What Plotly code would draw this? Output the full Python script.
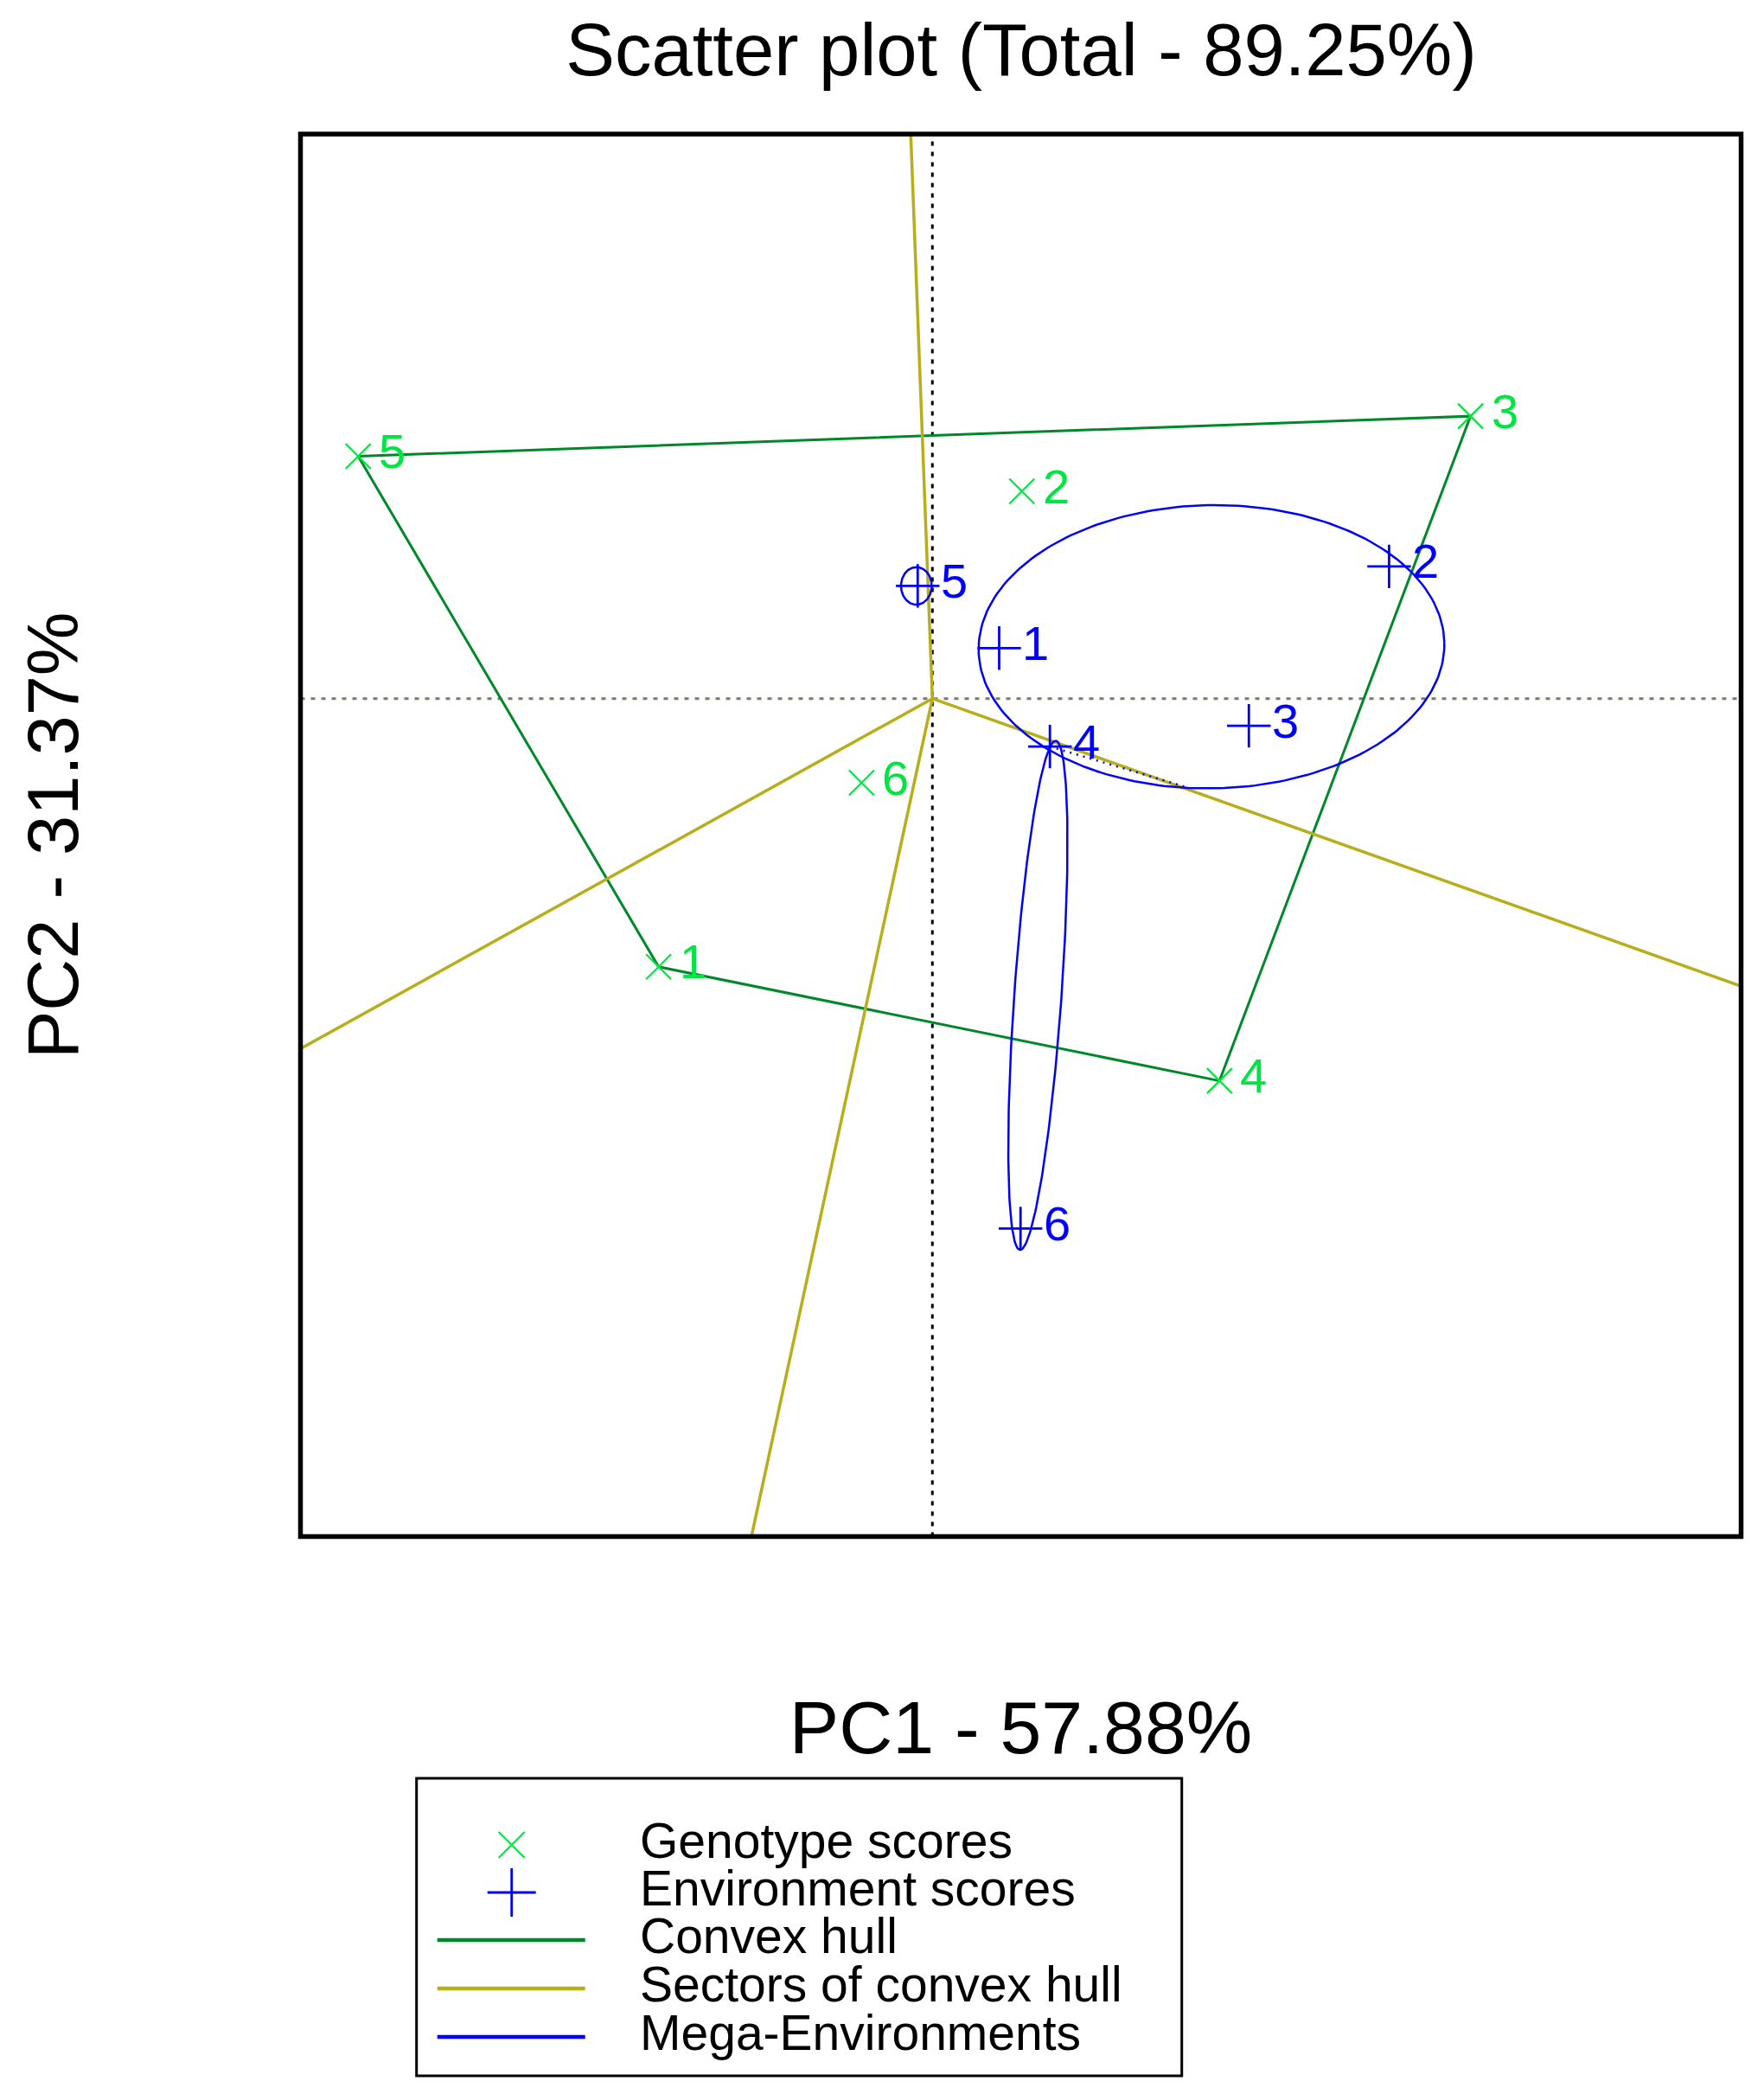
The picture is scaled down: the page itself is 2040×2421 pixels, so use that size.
import numpy as np
import plotly.graph_objects as go

# ---------------- data ----------------
genotype_labels = ["1", "2", "3", "4", "5", "6"]
genotype_pc1 = [-2.05, 0.67, 4.03, 2.15, -4.30, -0.53]
genotype_pc2 = [-2.07, 1.60, 2.18, -2.95, 1.87, -0.65]

environment_labels = ["1", "2", "3", "4", "5", "6"]
environment_pc1 = [0.50, 3.42, 2.37, 0.88, -0.11, 0.66]
environment_pc2 = [0.39, 1.02, -0.21, -0.37, 0.87, -4.09]

# mega-environment ellipses: members, centre, semi-axes, orientation
mega_env_members = [["1", "2", "3"], ["4", "6"], ["5"]]
mega_env_center_pc1 = [2.09, 0.79, -0.12]
mega_env_center_pc2 = [0.40, -2.29, 0.87]
mega_env_semi_major = [1.744, 1.969, 0.145]
mega_env_semi_minor = [1.093, 0.177, 0.115]
mega_env_angle_deg = [1.0, 86.1, 90.0]
mega_env_link_env = "4"          # dotted link environment -> ellipse 1
mega_env_link_param_deg = 264.0

title_text = "Scatter plot (Total - 89.25%)"
pc1_title = "PC1 - 57.88%"
pc2_title = "PC2 - 31.37%"
legend_labels = ["Genotype scores", "Environment scores", "Convex hull",
                 "Sectors of convex hull", "Mega-Environments"]

# ---------------- styles ----------------
FONT = "Liberation Sans, Arial, Helvetica, sans-serif"
GREEN = "#00E640"
HULL = "#00882A"
SECTOR = "#B8AE1C"
BLUE = "#0000FF"
W, H = 2040, 2421
OFF = 8  # page body margin of the html document


def px_x(p):
    return (p - OFF) / W


def px_y(p):
    return 1 - (p - OFF) / H


# ---------------- derived geometry ----------------
def convex_hull(xs, ys):
    pts = sorted(zip(xs, ys))

    def cross(o, a, b):
        return (a[0] - o[0]) * (b[1] - o[1]) - (a[1] - o[1]) * (b[0] - o[0])

    lower, upper = [], []
    for p in pts:
        while len(lower) >= 2 and cross(lower[-2], lower[-1], p) <= 0:
            lower.pop()
        lower.append(p)
    for p in reversed(pts):
        while len(upper) >= 2 and cross(upper[-2], upper[-1], p) <= 0:
            upper.pop()
        upper.append(p)
    return lower[:-1] + upper[:-1]


hull = convex_hull(genotype_pc1, genotype_pc2)
hull_x = [p[0] for p in hull] + [hull[0][0]]
hull_y = [p[1] for p in hull] + [hull[0][1]]

ray_x, ray_y = [], []
for i in range(len(hull)):
    p = np.array(hull[i])
    q = np.array(hull[(i + 1) % len(hull)])
    e = q - p
    nv = np.array([e[1], -e[0]])
    if np.dot(nv, p) < 0:
        nv = -nv
    nv = nv / np.linalg.norm(nv)
    end = nv * 30.0
    ray_x += [0.0, end[0], None]
    ray_y += [0.0, end[1], None]


def ellipse_point(k, t):
    th = np.radians(mega_env_angle_deg[k])
    a, b = mega_env_semi_major[k], mega_env_semi_minor[k]
    ex = mega_env_center_pc1[k] + a * np.cos(t) * np.cos(th) - b * np.sin(t) * np.sin(th)
    ey = mega_env_center_pc2[k] + a * np.cos(t) * np.sin(th) + b * np.sin(t) * np.cos(th)
    return ex, ey


tt = np.linspace(0, 2 * np.pi, 240)
ell_x, ell_y = [], []
for k in range(len(mega_env_center_pc1)):
    ex, ey = ellipse_point(k, tt)
    ell_x += list(ex) + [None]
    ell_y += list(ey) + [None]

li = environment_labels.index(mega_env_link_env)
lx, ly = ellipse_point(0, np.radians(mega_env_link_param_deg))
link_x = [environment_pc1[li], float(lx)]
link_y = [environment_pc2[li], float(ly)]

# ---------------- figure ----------------
fig = go.Figure()

fig.add_trace(go.Scatter(x=hull_x, y=hull_y, mode="lines", name="Convex hull",
                         line=dict(color=HULL, width=3), showlegend=False, hoverinfo="skip"))
fig.add_trace(go.Scatter(x=ray_x, y=ray_y, mode="lines", name="Sectors of convex hull",
                         line=dict(color=SECTOR, width=3.5), showlegend=False, hoverinfo="skip"))
fig.add_trace(go.Scatter(x=ell_x, y=ell_y, mode="lines", name="Mega-Environments",
                         line=dict(color=BLUE, width=2.5), showlegend=False, hoverinfo="skip"))
fig.add_trace(go.Scatter(x=link_x, y=link_y, mode="lines", showlegend=False,
                         line=dict(color=BLUE, width=2.5, dash="2px,6px"), hoverinfo="skip"))
fig.add_trace(go.Scatter(x=genotype_pc1, y=genotype_pc2, mode="markers", name="Genotype scores",
                         text=genotype_labels, showlegend=False,
                         marker=dict(symbol="x-thin", size=29, color=GREEN,
                                     line=dict(color=GREEN, width=2.2))))
fig.add_trace(go.Scatter(x=environment_pc1, y=environment_pc2, mode="markers",
                         name="Environment scores", text=environment_labels, showlegend=False,
                         marker=dict(symbol="cross-thin", size=36, color=BLUE,
                                     line=dict(color=BLUE, width=2.8))))

annotations = []
for lab, x, y in zip(genotype_labels, genotype_pc1, genotype_pc2):
    annotations.append(dict(x=x, y=y, xref="x", yref="y", text=lab, showarrow=False,
                            xanchor="left", yanchor="middle", xshift=22, yshift=6,
                            font=dict(family=FONT, size=56, color=GREEN)))
for lab, x, y in zip(environment_labels, environment_pc1, environment_pc2):
    annotations.append(dict(x=x, y=y, xref="x", yref="y", text=lab, showarrow=False,
                            xanchor="left", yanchor="middle", xshift=25, yshift=6,
                            font=dict(family=FONT, size=56, color=BLUE)))

# ---------------- legend (drawn in its own small axes) ----------------
LEG_W, LEG_H = 885, 344
row_y = [77, 132, 187, 243, 299]
sym_x = 110
line_x = [24, 195]
text_x = 257

fig.add_trace(go.Scatter(x=[sym_x], y=[row_y[0]], xaxis="x2", yaxis="y2", mode="markers",
                         showlegend=False, hoverinfo="skip",
                         marker=dict(symbol="x-thin", size=30, color=GREEN,
                                     line=dict(color=GREEN, width=2.2))))
fig.add_trace(go.Scatter(x=[sym_x], y=[row_y[1]], xaxis="x2", yaxis="y2", mode="markers",
                         showlegend=False, hoverinfo="skip",
                         marker=dict(symbol="cross-thin", size=40, color=BLUE,
                                     line=dict(color=BLUE, width=2.8))))
for ry, col in zip(row_y[2:], [HULL, SECTOR, BLUE]):
    fig.add_trace(go.Scatter(x=line_x, y=[ry, ry], xaxis="x2", yaxis="y2", mode="lines",
                             showlegend=False, hoverinfo="skip",
                             line=dict(color=col, width=4.5)))
for lab, ry in zip(legend_labels, row_y):
    annotations.append(dict(x=text_x, y=ry - 5, xref="x2", yref="y2", text=lab,
                            showarrow=False, xanchor="left", yanchor="middle", borderpad=0,
                            font=dict(family=FONT, size=57, color="black")))

shapes = [
    dict(type="line", xref="x", yref="y domain", x0=0, x1=0, y0=0, y1=1,
         line=dict(color="black", width=3, dash="5px,7px"), layer="below"),
    dict(type="line", xref="x domain", yref="y", x0=0, x1=1, y0=0, y1=0,
         line=dict(color="#7a7a70", width=3, dash="5px,7px"), layer="below"),
    dict(type="rect", xref="x domain", yref="y domain", x0=0, x1=1, y0=0, y1=1,
         line=dict(color="black", width=5.5), layer="above"),
    dict(type="rect", xref="x2 domain", yref="y2 domain", x0=0, x1=1, y0=0, y1=1,
         line=dict(color="black", width=3), layer="above"),
]

fig.update_layout(
    template="none",
    width=W, height=H,
    margin=dict(l=0, r=0, t=0, b=0),
    paper_bgcolor="white", plot_bgcolor="white",
    font=dict(family=FONT, color="black"),
    showlegend=False,
    title=dict(text=title_text, x=px_x(1181), xanchor="center", y=px_y(57), yanchor="middle",
               font=dict(family=FONT, size=85, color="black")),
    xaxis=dict(domain=[px_x(347.5), px_x(2013.5)], range=[-4.732, 6.056],
               showgrid=False, zeroline=False, showticklabels=False, ticks="",
               showline=False, automargin=False,
               title=dict(text=pc1_title, standoff=190,
                          font=dict(family=FONT, size=86, color="black"))),
    yaxis=dict(domain=[px_y(1776.5), px_y(155)], range=[-6.467, 4.357],
               showgrid=False, zeroline=False, showticklabels=False, ticks="",
               showline=False, automargin=False,
               title=dict(text=pc2_title, standoff=228,
                          font=dict(family=FONT, size=83, color="black"))),
    xaxis2=dict(domain=[px_x(481.7), px_x(481.7 + LEG_W)], range=[0, LEG_W], visible=False,
                anchor="y2", fixedrange=True),
    yaxis2=dict(domain=[px_y(2056 + LEG_H), px_y(2056)], range=[LEG_H, 0], visible=False,
                anchor="x2", fixedrange=True),
    annotations=annotations,
    shapes=shapes,
)

fig.write_html("out.html")
